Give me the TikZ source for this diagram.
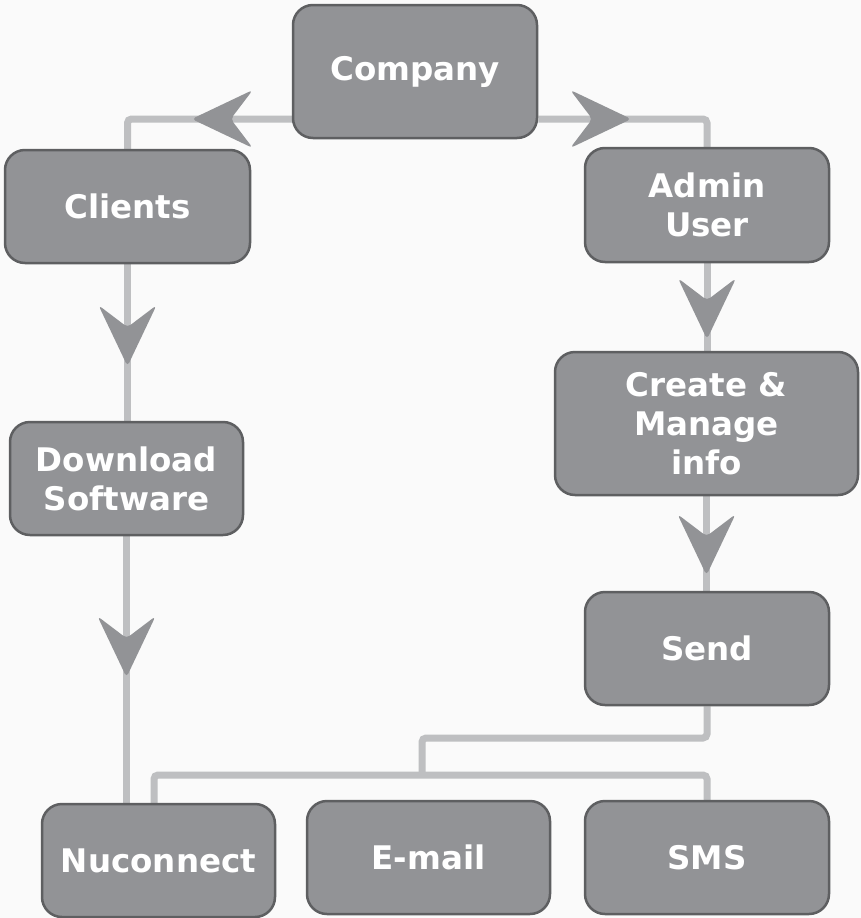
\documentclass[tikz,border=0pt]{standalone}
\usepackage{fontspec}
\setmainfont{DejaVu Sans}
\usetikzlibrary{decorations.markings,backgrounds}
\definecolor{boxfill}{HTML}{929396}
\definecolor{boxline}{HTML}{5E5F61}
\definecolor{connc}{HTML}{BEBFC1}
\definecolor{bgc}{HTML}{FAFAFA}
\tikzset{
  box/.style={draw=boxline, line width=2.5pt, fill=boxfill, rounded corners=20pt,
    text=white, font=\fontsize{32.5}{39}\selectfont\bfseries, align=center, inner sep=0pt},
  conn/.style={draw=connc, line width=7pt, rounded corners=4pt},
  chev/.style={postaction={decorate}, decoration={markings, mark=at position #1 with
    {\fill[boxfill] (0,0) -- (-61,29) -- (-39,0) -- (-61,-29) -- cycle;}}}
}
\begin{document}
\begin{tikzpicture}[x=1pt,y=-1pt]
\useasboundingbox (0,0) rectangle (861,918);
\node[box, minimum width=244pt, minimum height=133pt] (company) at (415,71.5) {Company};
\node[box, minimum width=245pt, minimum height=113pt] (clients) at (127.5,206.5) {Clients};
\node[box, minimum width=244pt, minimum height=114pt] (admin) at (707,205) {Admin\\User};
\node[box, minimum width=303pt, minimum height=143pt] (create) at (706.5,423.5) {Create \&\\Manage\\info};
\node[box, minimum width=233pt, minimum height=113pt] (download) at (126.5,478.5) {Download\\Software};
\node[box, minimum width=244pt, minimum height=113pt] (send) at (707,648.5) {Send};
\node[box, minimum width=233pt, minimum height=113pt] (nuconnect) at (158.5,860.5) {Nuconnect};
\node[box, minimum width=243pt, minimum height=113pt] (email) at (428.5,857.5) {E-mail};
\node[box, minimum width=244pt, minimum height=113pt] (sms) at (707,857.5) {SMS};
\coordinate (topbar) at (0,119);
\coordinate (bus) at (154,775);
\coordinate (mid) at (422,738);
\begin{scope}[on background layer]
  \fill[bgc] (0,0) rectangle (861,918);
  \draw[conn, chev=100pt] (company.west |- topbar) -| (clients.north);
  \draw[conn, chev=93pt] (company.east |- topbar) -| (admin.north);
  \draw[conn, chev=102pt] (clients.south) -- (clients.south |- download.north);
  \draw[conn, chev=141pt] (download.south) -- (download.south |- nuconnect.north);
  \draw[conn, chev=76pt] (admin.south) -- (admin.south |- create.north);
  \draw[conn, chev=79pt] (create.south) -- (create.south |- send.north);
  \draw[conn] (send.south) |- (mid) -- (mid |- bus);
  \draw[conn] (nuconnect.north -| bus) -- (bus) -| (sms.north);
\end{scope}
\end{tikzpicture}
\end{document}
